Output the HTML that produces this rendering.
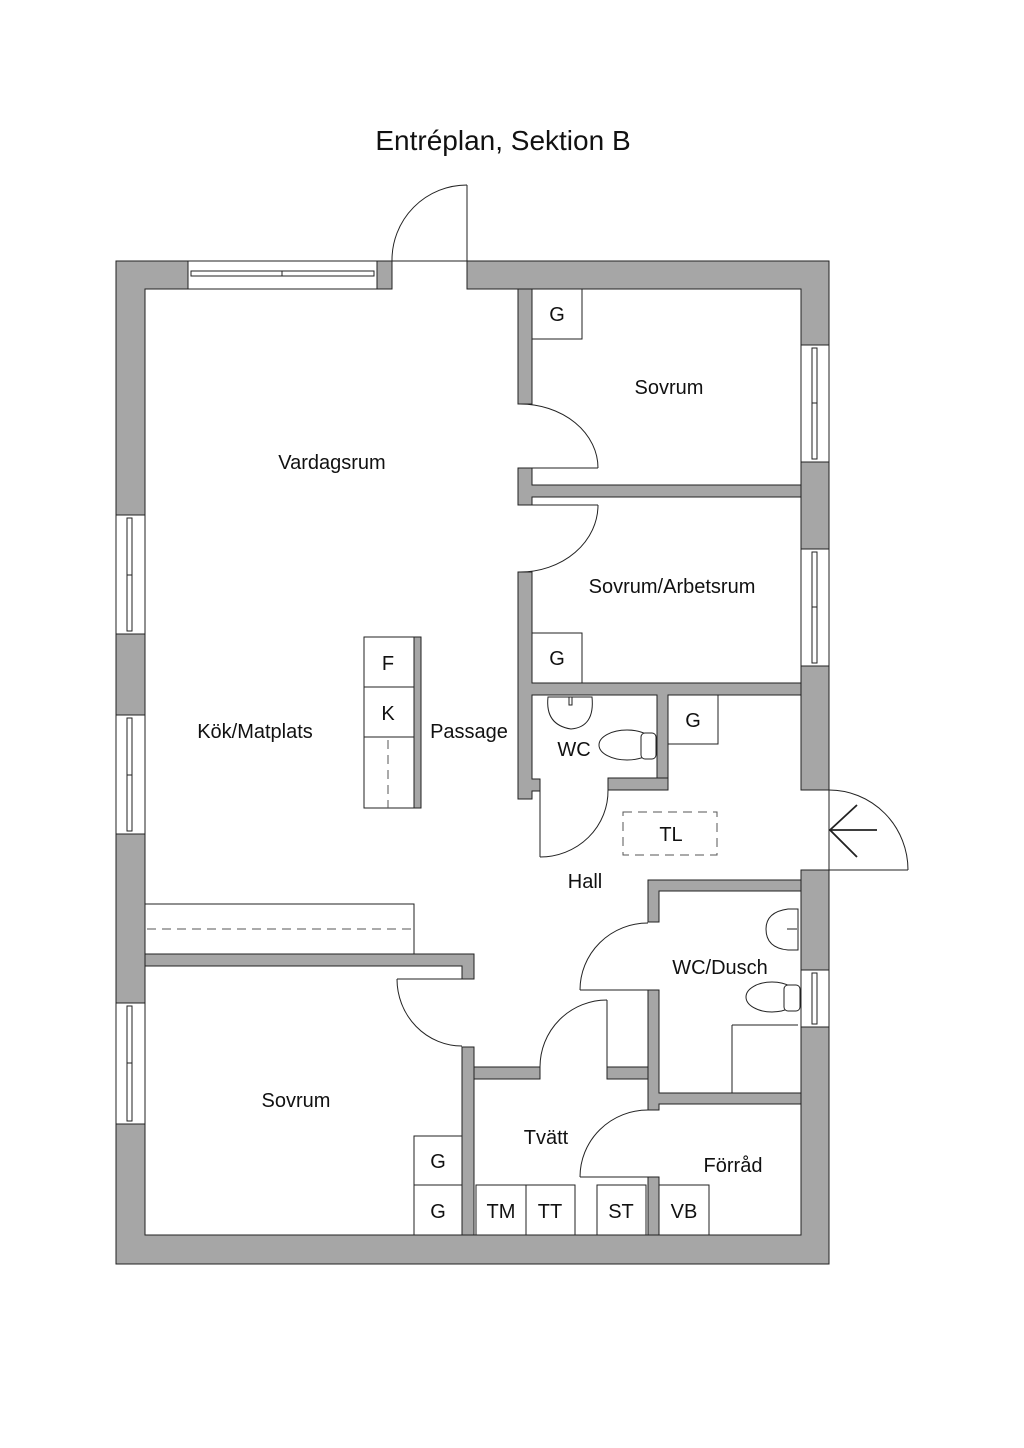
<!DOCTYPE html>
<html><head><meta charset="utf-8"><style>
html,body{margin:0;padding:0;background:#fff;}
svg{display:block;}
text{font-family:"Liberation Sans",sans-serif;fill:#111;}
</style></head><body>
<svg width="1024" height="1448" viewBox="0 0 1024 1448" xmlns="http://www.w3.org/2000/svg">
<text x="503" y="150" font-size="28" text-anchor="middle">Entréplan, Sektion B</text>
<g fill="#a6a6a6" stroke="#222" stroke-width="1">
<!-- outer wall -->
<path d="M116 261H392V289H145V1235H801V870H829V1264H116Z"/>
<path d="M467 261H829V790H801V289H467Z"/>
<!-- interior walls -->
<path d="M518 289H532V404H518Z"/>
<path d="M518 468H532V485H801V497H532V505H518Z"/>
<path d="M518 572H532V683H801V695H668V778H657V695H532V779H540V791H532V799H518Z"/>
<path d="M608 778H668V790H608Z"/>
<path d="M648 880H801V891H659V922H648Z"/>
<path d="M648 990H659V1093H801V1104H659V1110H648Z"/>
<path d="M648 1177H659V1235H648Z"/>
<path d="M474 1067H540V1079H474Z"/>
<path d="M607 1067H648V1079H607Z"/>
<path d="M462 1047H474V1235H462Z"/>
<path d="M145 954H474V979H462V966H145Z"/>
<path d="M414 637H421V808H414Z"/>
</g>
<line x1="829" y1="790" x2="829" y2="870" stroke="#222"/>
<!-- windows -->
<g fill="#fff" stroke="#222" stroke-width="1">
<rect x="188" y="261" width="189" height="28"/>
<rect x="191" y="271" width="183" height="5"/>
<line x1="282" y1="271" x2="282" y2="276"/>
<rect x="116" y="515" width="29" height="119"/>
<rect x="127" y="518" width="5" height="113"/><line x1="127" y1="575" x2="132" y2="575"/>
<rect x="116" y="715" width="29" height="119"/>
<rect x="127" y="718" width="5" height="113"/><line x1="127" y1="775" x2="132" y2="775"/>
<rect x="116" y="1003" width="29" height="121"/>
<rect x="127" y="1006" width="5" height="115"/><line x1="127" y1="1063" x2="132" y2="1063"/>
<rect x="801" y="345" width="28" height="117"/>
<rect x="812" y="348" width="5" height="111"/><line x1="812" y1="403" x2="817" y2="403"/>
<rect x="801" y="549" width="28" height="117"/>
<rect x="812" y="552" width="5" height="111"/><line x1="812" y1="607" x2="817" y2="607"/>
<rect x="801" y="970" width="28" height="57"/>
<rect x="812" y="973" width="5" height="51"/>
</g>
<!-- doors -->
<g fill="none" stroke="#222" stroke-width="1">
<line x1="392" y1="261" x2="467" y2="261"/>
<line x1="467" y1="185" x2="467" y2="261"/>
<path d="M392 261A75 75 0 0 1 467 185"/>
<line x1="518" y1="468" x2="598" y2="468"/>
<path d="M520 404A78 64 0 0 1 598 468"/>
<line x1="518" y1="505" x2="598" y2="505"/>
<path d="M598 505A78 67 0 0 1 520 572"/>
<line x1="540" y1="791" x2="540" y2="857"/>
<path d="M540 857A68 66 0 0 0 608 790"/>
<line x1="829" y1="870" x2="908" y2="870"/>
<path d="M829 790A79 80 0 0 1 908 870"/>
<line x1="829" y1="830" x2="877" y2="830" stroke-width="1.8"/>
<polyline points="857,805 830,830 857,857" stroke-width="1.8"/>
<line x1="580" y1="990" x2="648" y2="990"/>
<path d="M580 990A68 67 0 0 1 648 923"/>
<line x1="607" y1="1000" x2="607" y2="1067"/>
<path d="M540 1067A67 67 0 0 1 607 1000"/>
<line x1="397" y1="979" x2="462" y2="979"/>
<path d="M397 979A65 67 0 0 0 462 1046"/>
<line x1="580" y1="1177" x2="648" y2="1177"/>
<path d="M580 1177A68 67 0 0 1 648 1110"/>
</g>
<!-- fixtures -->
<g fill="#fff" stroke="#222" stroke-width="1">
<rect x="532" y="289" width="50" height="50"/>
<rect x="532" y="633" width="50" height="50"/>
<rect x="668" y="695" width="50" height="49"/>
<rect x="364" y="637" width="50" height="171"/>
<line x1="364" y1="687" x2="414" y2="687"/>
<line x1="364" y1="737" x2="414" y2="737"/>
<rect x="145" y="904" width="269" height="50"/>
<rect x="414" y="1136" width="48" height="49"/>
<rect x="414" y="1185" width="48" height="50"/>
<rect x="476" y="1185" width="50" height="50"/>
<rect x="526" y="1185" width="49" height="50"/>
<rect x="597" y="1185" width="49" height="50"/>
<rect x="659" y="1185" width="50" height="50"/>
<path d="M548 697Q545 725 571 729Q595 727 592 697Z"/>
<rect x="569" y="697" width="3" height="8"/>
<ellipse cx="627" cy="745" rx="28" ry="15"/>
<rect x="641" y="733" width="15" height="26" rx="4"/>
<path d="M798 909H788Q766 912 766 929Q766 948 788 950H798Z"/>
<line x1="787" y1="929" x2="797" y2="929"/>
<ellipse cx="772" cy="997" rx="26" ry="15"/>
<rect x="784" y="985" width="16" height="26" rx="4"/>
<path d="M732 1025H798M732 1025V1093" fill="none"/>
</g>
<g fill="none" stroke="#555" stroke-width="1" stroke-dasharray="9,6">
<line x1="388" y1="740" x2="388" y2="808"/>
<line x1="147" y1="929" x2="414" y2="929"/>
<rect x="623" y="812" width="94" height="43"/>
</g>
<g font-size="20" text-anchor="middle">
<text x="332" y="469">Vardagsrum</text>
<text x="669" y="394">Sovrum</text>
<text x="672" y="593">Sovrum/Arbetsrum</text>
<text x="255" y="738">Kök/Matplats</text>
<text x="469" y="738">Passage</text>
<text x="388" y="670">F</text>
<text x="388" y="720">K</text>
<text x="574" y="756">WC</text>
<text x="557" y="321">G</text>
<text x="557" y="665">G</text>
<text x="693" y="727">G</text>
<text x="671" y="841">TL</text>
<text x="585" y="888">Hall</text>
<text x="720" y="974">WC/Dusch</text>
<text x="296" y="1107">Sovrum</text>
<text x="546" y="1144">Tvätt</text>
<text x="733" y="1172">Förråd</text>
<text x="438" y="1168">G</text>
<text x="438" y="1218">G</text>
<text x="501" y="1218">TM</text>
<text x="550" y="1218">TT</text>
<text x="621" y="1218">ST</text>
<text x="684" y="1218">VB</text>
</g>
</svg>
</body></html>
